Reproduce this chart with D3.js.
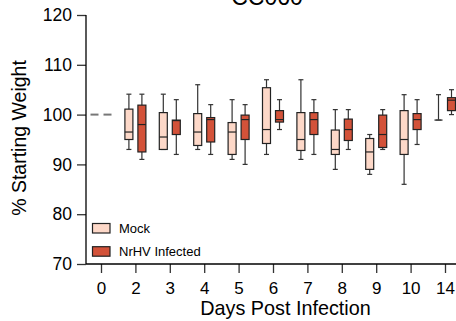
<!doctype html>
<meta charset="utf-8">
<title>CC060</title>
<style>
body { margin: 0; background: #fff; }
svg { font-family: "Liberation Sans", Arial, sans-serif; }
</style>
<script src="https://cdnjs.cloudflare.com/ajax/libs/d3/7.8.5/d3.min.js"></script>
<body>
<script>
// days post infection
var days = ["0", "2", "3", "4", "5", "6", "7", "8", "9", "10", "14"];

// Mock: min, q1, median, q3, max
var mockMin = [100, 93.0, 93.0, 93.0, 91.0, 92.0, 91.0, 89.0, 88.0, 86.0, 98.9];
var mockQ1  = [100, 95.0, 93.0, 93.8, 92.0, 94.2, 92.8, 92.0, 89.0, 92.0, 98.9];
var mockMed = [100, 96.5, 95.5, 96.5, 96.5, 97.0, 95.0, 93.0, 92.5, 95.0, 98.9];
var mockQ3  = [100, 101.1, 100.4, 100.2, 98.4, 105.4, 100.4, 96.9, 95.2, 100.8, 98.9];
var mockMax = [100, 104.1, 104.1, 106.0, 103.0, 107.0, 107.0, 101.0, 96.0, 104.0, 104.0];

// NrHV infected: min, q1, median, q3, max
var infMin = [100, 91.0, 92.0, 92.0, 90.0, 97.0, 92.0, 93.0, 93.0, 94.0, 100.0];
var infQ1  = [100, 92.5, 96.0, 94.5, 95.0, 98.5, 96.0, 94.8, 93.4, 97.0, 100.8];
var infMed = [100, 98.0, 98.8, 99.0, 99.0, 99.0, 99.0, 97.0, 96.0, 99.0, 102.9];
var infQ3  = [100, 101.9, 98.9, 99.4, 99.9, 100.8, 100.4, 99.1, 99.9, 100.2, 103.4];
var infMax = [100, 104.1, 103.0, 102.0, 102.0, 103.0, 103.0, 101.0, 101.0, 103.0, 105.0];

var yTicks = [70, 80, 90, 100, 110, 120];

var W = 456, H = 321;
var svg = d3.select("body").append("svg").attr("width", W).attr("height", H);

var x = d3.scalePoint().domain(days).range([101, 445]);
var y = d3.scaleLinear().domain([70, 120]).range([264, 15]);

var groups = [
  {name: "Mock", fill: "#fdd8c8", off: -6.5,
   min: mockMin, q1: mockQ1, med: mockMed, q3: mockQ3, max: mockMax},
  {name: "NrHV Infected", fill: "#d35239", off: 6.5,
   min: infMin, q1: infQ1, med: infMed, q3: infQ3, max: infMax}
];
var bw = 8;

groups.forEach(function(g) {
  days.forEach(function(d, i) {
    var cx = x(d) + g.off;
    var gg = svg.append("g");
    if (g.q1[i] === g.q3[i] && g.min[i] === g.max[i]) {
      // collapsed box (all 100)
      gg.append("line")
        .attr("x1", cx - bw / 2).attr("x2", cx + bw / 2)
        .attr("y1", y(g.med[i])).attr("y2", y(g.med[i]))
        .attr("stroke", "#777").attr("stroke-width", 2);
      return;
    }
    // whiskers
    gg.append("line")
      .attr("x1", cx).attr("x2", cx)
      .attr("y1", y(g.max[i])).attr("y2", y(g.min[i]))
      .attr("stroke", "#333").attr("stroke-width", 1.2);
    [g.max[i], g.min[i]].forEach(function(v) {
      gg.append("line")
        .attr("x1", cx - 2.5).attr("x2", cx + 2.5)
        .attr("y1", y(v)).attr("y2", y(v))
        .attr("stroke", "#333").attr("stroke-width", 1.2);
    });
    if (g.q1[i] === g.q3[i]) {
      gg.append("line")
        .attr("x1", cx - bw / 2).attr("x2", cx + bw / 2)
        .attr("y1", y(g.q1[i])).attr("y2", y(g.q1[i]))
        .attr("stroke", "#444").attr("stroke-width", 1.5);
      return;
    }
    gg.append("rect")
      .attr("x", cx - bw / 2).attr("width", bw)
      .attr("y", y(g.q3[i])).attr("height", y(g.q1[i]) - y(g.q3[i]))
      .attr("fill", g.fill).attr("stroke", "#222").attr("stroke-width", 1.2);
    gg.append("line")
      .attr("x1", cx - bw / 2).attr("x2", cx + bw / 2)
      .attr("y1", y(g.med[i])).attr("y2", y(g.med[i]))
      .attr("stroke", "#222").attr("stroke-width", 1.2);
  });
});

// y axis
var yAxis = svg.append("g").attr("transform", "translate(86,0)")
  .call(d3.axisLeft(y).tickValues(yTicks).tickSize(9).tickSizeOuter(0).tickPadding(5));
yAxis.select(".domain").remove();
yAxis.append("line").attr("x1", 0).attr("x2", 0).attr("y1", 15).attr("y2", 264)
  .attr("stroke", "#000").attr("stroke-width", 1.3);
yAxis.selectAll(".tick line").attr("stroke", "#333").attr("stroke-width", 1.3);
yAxis.selectAll("text").attr("font-size", 17.5).attr("fill", "#000")
  .attr("font-family", "Liberation Sans, Arial, sans-serif");

// x axis
var xAxis = svg.append("g").attr("transform", "translate(0,264)")
  .call(d3.axisBottom(x).tickSize(9).tickSizeOuter(0).tickPadding(9));
xAxis.select(".domain").remove();
xAxis.append("line").attr("x1", 86).attr("x2", W).attr("y1", 0).attr("y2", 0)
  .attr("stroke", "#000").attr("stroke-width", 1.3);
xAxis.selectAll(".tick line").attr("stroke", "#333").attr("stroke-width", 1.3);
xAxis.selectAll("text").attr("font-size", 17).attr("fill", "#000")
  .attr("font-family", "Liberation Sans, Arial, sans-serif");

// titles
svg.append("text").attr("x", 267).attr("y", 5).attr("text-anchor", "middle")
  .attr("font-size", 23).text("CC060");
svg.append("text").attr("x", 285.5).attr("y", 315).attr("text-anchor", "middle")
  .attr("font-size", 19.8).text("Days Post Infection");
svg.append("text").attr("transform", "translate(26,138) rotate(-90)")
  .attr("text-anchor", "middle").attr("font-size", 19.5).text("% Starting Weight");

// legend
groups.forEach(function(g, i) {
  var ly = 223.5 + i * 23.2;
  svg.append("rect").attr("x", 92.5).attr("y", ly).attr("width", 17.5).attr("height", 9.5)
    .attr("fill", g.fill).attr("stroke", "#222").attr("stroke-width", 1.2);
  svg.append("text").attr("x", 119).attr("y", ly + 9.3).attr("font-size", 13)
    .text(g.name);
});
</script>
</body>
